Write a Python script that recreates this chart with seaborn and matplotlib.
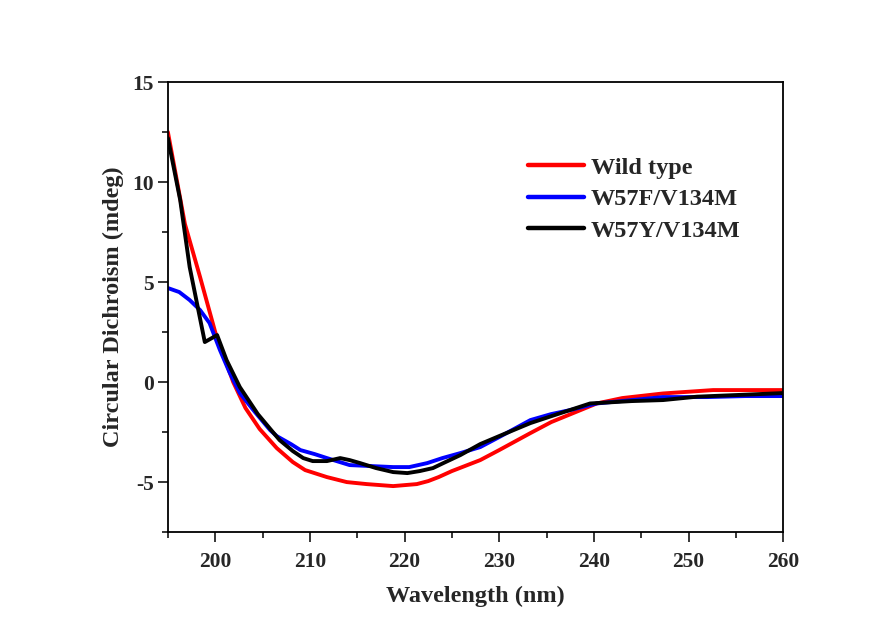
import seaborn as sns
import matplotlib.pyplot as plt
import pandas as pd
from matplotlib.ticker import MultipleLocator

# values
wt_x = [195, 196.8, 198.4, 200, 201.9, 203.2, 204.7, 206.5, 208.2, 209.5, 211.8, 213.9, 216, 218.8, 221.3,
        222.5, 223.6, 225, 228, 230, 233.3, 235.5, 238.6, 240.3, 243, 247.3, 252.6, 256, 260]
wt_y = [12.5, 7.9, 5.25, 2.5, 0.0, -1.3, -2.35, -3.3, -4.0, -4.4, -4.75, -5.0, -5.1, -5.2, -5.1,
        -4.95, -4.75, -4.45, -3.9, -3.4, -2.55, -2.0, -1.4, -1.07, -0.8, -0.57, -0.4, -0.4, -0.4]

f_x = [195, 196.2, 197.3, 198.4, 199.4, 200.5, 201.5, 202.6, 204.2, 205.8, 206.5, 208, 209, 210.5, 211.8,
       214.2, 216.5, 218.8, 220.5, 222.4, 224, 225.9, 228, 230, 233.3, 235.5, 237.5, 240.3, 244, 247.3, 252, 256, 260]
f_y = [4.7, 4.5, 4.1, 3.6, 2.95, 1.6, 0.5, -0.55, -1.5, -2.4, -2.7, -3.1, -3.4, -3.6, -3.8,
       -4.15, -4.2, -4.25, -4.25, -4.05, -3.8, -3.55, -3.25, -2.75, -1.9, -1.6, -1.4, -1.07, -0.9, -0.75, -0.75, -0.7, -0.7]

y_x = [195, 196.3, 197.3, 198.9, 200.2, 201.2, 202.6, 204.5, 206.8, 208.2, 209.3, 210.3, 211.8, 213.2, 214.2,
       215.3, 217, 218.8, 220.3, 221.6, 223, 224.1, 225.9, 228, 230, 233.3, 236.5, 239.6, 244, 247.3, 250.9, 255, 260]
y_y = [12.2, 9.1, 5.75, 2.0, 2.35, 1.1, -0.25, -1.6, -2.9, -3.45, -3.8, -3.95, -3.95, -3.8, -3.9,
       -4.05, -4.3, -4.5, -4.55, -4.45, -4.3, -4.05, -3.65, -3.1, -2.7, -2.05, -1.55, -1.07, -0.95, -0.9, -0.73, -0.65, -0.55]

labels = ['Wild type', 'W57F/V134M', 'W57Y/V134M']
colors = ['#ff0000', '#0000ff', '#000000']

# long-form table for seaborn
df = pd.concat([
    pd.DataFrame({'Wavelength': wt_x, 'CD': wt_y, 'Sample': labels[0]}),
    pd.DataFrame({'Wavelength': f_x, 'CD': f_y, 'Sample': labels[1]}),
    pd.DataFrame({'Wavelength': y_x, 'CD': y_y, 'Sample': labels[2]}),
], ignore_index=True)

sns.set_style('white')
plt.rcParams['font.family'] = ['Liberation Serif', 'DejaVu Serif']
plt.rcParams['font.weight'] = 'bold'
plt.rcParams['axes.unicode_minus'] = False

fig = plt.figure(figsize=(8.93, 6.26), dpi=100)
ax = fig.add_axes([0.188, 0.150, 0.689, 0.719])

sns.lineplot(data=df, x='Wavelength', y='CD', hue='Sample', hue_order=labels,
             palette=dict(zip(labels, colors)), linewidth=2.8, sort=False,
             estimator=None, ax=ax)

ax.set_xlim(195, 260)
ax.set_ylim(-7.5, 15)
ax.xaxis.set_major_locator(MultipleLocator(10))
ax.xaxis.set_minor_locator(MultipleLocator(5))
ax.yaxis.set_major_locator(MultipleLocator(5))
ax.yaxis.set_minor_locator(MultipleLocator(2.5))
ax.tick_params(which='major', direction='out', length=7, width=1.3, labelsize=15.5,
               bottom=True, left=True, top=False, right=False)
ax.tick_params(axis='x', which='major', pad=7)
ax.tick_params(axis='y', which='major', pad=3)
ax.tick_params(which='minor', direction='out', length=4, width=1.3,
               bottom=True, left=True, top=False, right=False)
for lab in ax.get_xticklabels() + ax.get_yticklabels():
    lab.set_fontweight('bold')

for s in ax.spines.values():
    s.set_linewidth(1.3)
    s.set_color('black')

ax.set_xlabel('Wavelength (nm)', fontsize=17.5, fontweight='bold', labelpad=10)
ax.set_ylabel('Circular Dichroism (mdeg)', fontsize=17.5, fontweight='bold', labelpad=6)

leg = ax.legend(loc='upper left', bbox_to_anchor=(0.585, 0.834), frameon=False,
                prop={'size': 17.5, 'weight': 'bold'}, handlelength=2.3, labelspacing=0.39,
                handletextpad=0.3, borderpad=0, borderaxespad=0)
for h in leg.get_lines():
    h.set_linewidth(3.2)

plt.savefig('out.png', dpi=100)
